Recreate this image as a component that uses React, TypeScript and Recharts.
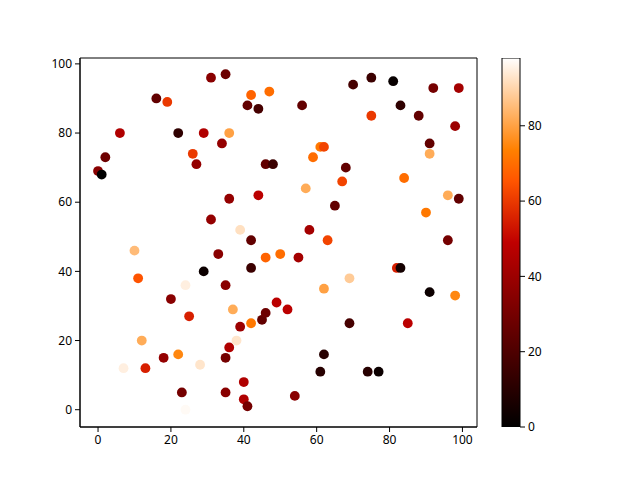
import React from "react";
import {
  ScatterChart,
  Scatter,
  XAxis,
  YAxis,
  ReferenceArea,
  BarChart,
  Bar,
} from "recharts";

// point positions and colour values
const xs = [0, 1, 2, 6, 7, 10, 11, 12, 13, 16, 18, 19, 20, 22, 22, 23, 24, 24, 25, 26, 27, 28, 29, 29, 31, 31, 33, 34, 35, 35, 35, 35, 36, 36, 36, 37, 38, 39, 39, 40, 40, 41, 41, 42, 42, 42, 42, 44, 44, 45, 46, 46, 46, 47, 48, 49, 50, 52, 54, 55, 56, 57, 58, 59, 61, 61, 62, 62, 62, 63, 65, 67, 68, 69, 69, 70, 74, 75, 75, 77, 81, 82, 83, 83, 84, 85, 88, 90, 91, 91, 91, 92, 96, 96, 98, 98, 99, 99];
const ys = [69, 68, 73, 80, 12, 46, 38, 20, 12, 90, 15, 89, 32, 80, 16, 5, 0, 36, 27, 74, 71, 13, 80, 40, 96, 55, 45, 77, 97, 36, 15, 5, 80, 61, 18, 29, 20, 52, 24, 8, 3, 88, 1, 91, 49, 41, 25, 87, 62, 26, 71, 44, 28, 92, 71, 31, 45, 29, 4, 44, 88, 64, 52, 73, 76, 11, 76, 35, 16, 49, 59, 66, 70, 38, 25, 94, 11, 96, 85, 11, 95, 41, 41, 88, 67, 25, 85, 57, 77, 74, 34, 93, 62, 49, 82, 33, 93, 61];
const cs = [35, 0, 28, 45, 95, 85, 65, 82, 55, 25, 38, 60, 35, 12, 75, 30, 97, 95, 55, 60, 38, 93, 45, 3, 35, 38, 35, 38, 28, 35, 30, 35, 80, 38, 45, 82, 93, 92, 40, 45, 45, 25, 30, 68, 25, 15, 72, 18, 48, 25, 25, 68, 28, 70, 15, 48, 70, 48, 35, 42, 25, 82, 42, 70, 72, 10, 62, 80, 10, 62, 25, 62, 25, 88, 18, 18, 10, 15, 60, 3, 2, 55, 5, 12, 70, 48, 25, 72, 25, 82, 3, 30, 82, 30, 40, 75, 42, 25];

const colorTicks = [0, 20, 40, 60, 80];
const axisTicks = [0, 20, 40, 60, 80, 100];
const VMAX = 98;

// matplotlib gist_heat
function gistHeat(v: number) {
  const t = Math.min(1, Math.max(0, v / VMAX));
  const r = Math.min(1, 1.5 * t);
  const g = Math.max(0, 2 * t - 1);
  const b = Math.max(0, 4 * t - 3);
  return `rgb(${Math.round(r * 255)},${Math.round(g * 255)},${Math.round(b * 255)})`;
}

const points = xs.map((x, i) => ({ x, y: ys[i], c: cs[i], color: gistHeat(cs[i]) }));
const barData = [{ name: "cb", v: VMAX }];
const gradStops = [0, 0.5, 2 / 3, 0.75, 1];

const font = { fill: "#000", fontSize: 12, fontFamily: "Noto Sans" };

export default function App() {
  return (
    <div style={{ position: "absolute", left: 0, top: 0, width: 640, height: 480, background: "#fff" }}>
      <div style={{ position: "absolute", left: 0, top: 0 }}>
        <ScatterChart width={640} height={480} margin={{ top: 58, right: 163, bottom: 23, left: 40 }}>
          <XAxis
            type="number"
            dataKey="x"
            domain={[-4.95, 104]}
            ticks={axisTicks}
            allowDataOverflow
            height={30}
            tick={font}
            tickSize={5}
            tickMargin={3}
            stroke="#000"
          />
          <YAxis
            type="number"
            dataKey="y"
            domain={[-5, 101.7]}
            ticks={axisTicks}
            allowDataOverflow
            width={40}
            tick={font}
            tickSize={5}
            tickMargin={3}
            stroke="#000"
          />
          <ReferenceArea x1={-4.95} x2={104} y1={-5} y2={101.7} fill="none" stroke="#000" strokeWidth={1} ifOverflow="visible" />
          <Scatter
            data={points}
            isAnimationActive={false}
            shape={(p: any) => <circle cx={p.cx} cy={p.cy} r={4.9} fill={p.payload.color} />}
          />
        </ScatterChart>
      </div>
      <div style={{ position: "absolute", left: 0, top: 0 }}>
        <BarChart width={640} height={480} data={barData} margin={{ top: 58, right: 80, bottom: 53, left: 502 }} barCategoryGap={0}>
          <defs>
            <linearGradient id="gistHeat" x1="0" y1="1" x2="0" y2="0">
              {gradStops.map((s) => (
                <stop key={s} offset={s} stopColor={gistHeat(s * VMAX)} />
              ))}
            </linearGradient>
          </defs>
          <XAxis dataKey="name" hide />
          <YAxis
            orientation="right"
            domain={[0, VMAX]}
            ticks={colorTicks}
            allowDataOverflow
            width={40}
            tick={font}
            tickSize={5}
            tickMargin={3}
            axisLine={false}
            stroke="#000"
          />
          <Bar dataKey="v" fill="url(#gistHeat)" stroke="#000" strokeWidth={1} isAnimationActive={false} />
        </BarChart>
      </div>
    </div>
  );
}
